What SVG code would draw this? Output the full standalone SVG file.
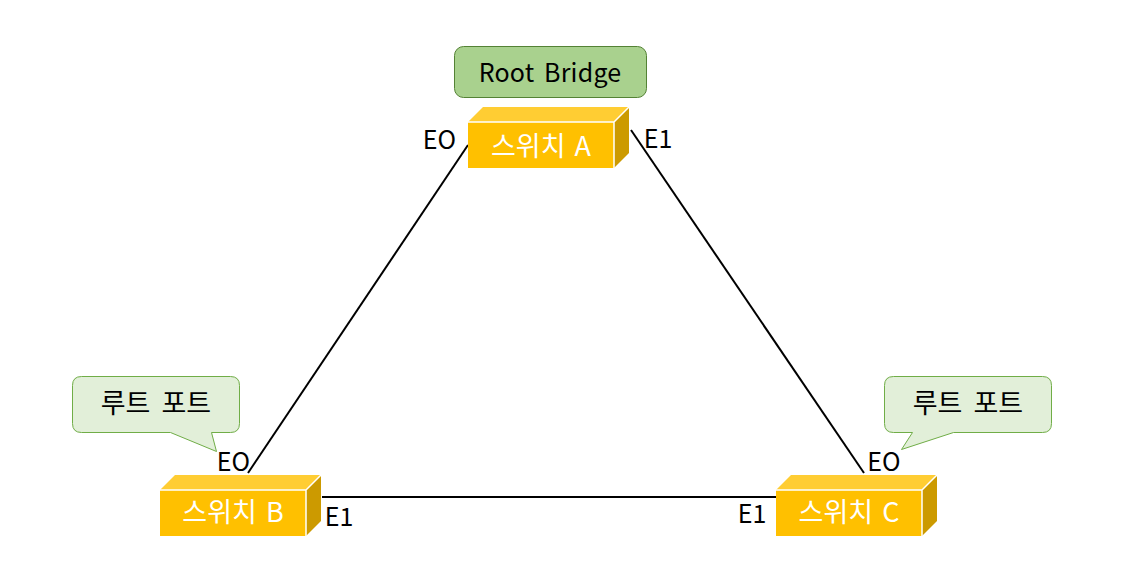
<svg xmlns="http://www.w3.org/2000/svg" width="1127" height="578" viewBox="0 0 1127 578">
<style>
text{font-family:"Noto Sans CJK KR","Noto Sans",sans-serif;font-size:25px;fill:#000;text-anchor:middle}
.r{word-spacing:4px;letter-spacing:.2px}
.w{fill:#fff;font-size:27px;word-spacing:3px}
.p{font-size:27px;word-spacing:5px}
.front{fill:#ffc000}
.top{fill:#ffcd33}
.side{fill:#cc9a00}
.edge{fill:none;stroke:#fff;stroke-width:1.500}
.call{fill:#e2efd9;stroke:#70ad47;stroke-width:1}
.conn{stroke:#000;stroke-width:2;fill:none}
</style>
<defs>
<g id="box">
<path class="top" d="M0 15L15 0H161L146 15Z"/>
<path class="side" d="M146 15L161 0V46L146 61Z"/>
<rect class="front" x="0" y="15" width="146" height="46"/>
<path class="edge" d="M0 15H146V61M146 15L161 0"/>
</g>
</defs>
<g id="connectors">
<path class="conn" d="M468 145L248 473"/>
<path class="conn" d="M631 130L864 473"/>
<path class="conn" d="M322 497H776"/>
</g>
<g id="root-bridge">
<rect x="454.500" y="46.500" width="192" height="51" rx="9" fill="#a9d18e" stroke="#548235"/>
<text class="r" x="550" y="82">Root Bridge</text>
</g>
<g id="switch-a">
<use href="#box" x="468" y="107"/>
<text class="w" x="541" y="156">스위치 A</text>
<text x="439.500" y="149">EO</text>
<text x="658" y="148">E1</text>
</g>
<g id="switch-b">
<use href="#box" x="160" y="475"/>
<text class="w" x="233" y="522">스위치 B</text>
<text x="233.500" y="471">EO</text>
<text x="339" y="526">E1</text>
</g>
<g id="switch-c">
<use href="#box" x="776" y="475"/>
<text class="w" x="849" y="522">스위치 C</text>
<text x="884" y="471">EO</text>
<text x="752" y="523">E1</text>
</g>
<g id="callout-b">
<path class="call" d="M81.500 376.500H230.500Q239.500 376.500 239.500 385.500V423.500Q239.500 432.500 230.500 432.500H211.500L216.500 451.500L170.500 432.500H81.500Q72.500 432.500 72.500 423.500V385.500Q72.500 376.500 81.500 376.500Z"/>
<text class="p" x="156" y="413">루트 포트</text>
</g>
<g id="callout-c">
<path class="call" d="M893.500 376.500H1042.500Q1051.500 376.500 1051.500 385.500V423.500Q1051.500 432.500 1042.500 432.500H953.500L901.500 449.500L912.500 432.500H893.500Q884.500 432.500 884.500 423.500V385.500Q884.500 376.500 893.500 376.500Z"/>
<text class="p" x="968" y="413">루트 포트</text>
</g>
</svg>
